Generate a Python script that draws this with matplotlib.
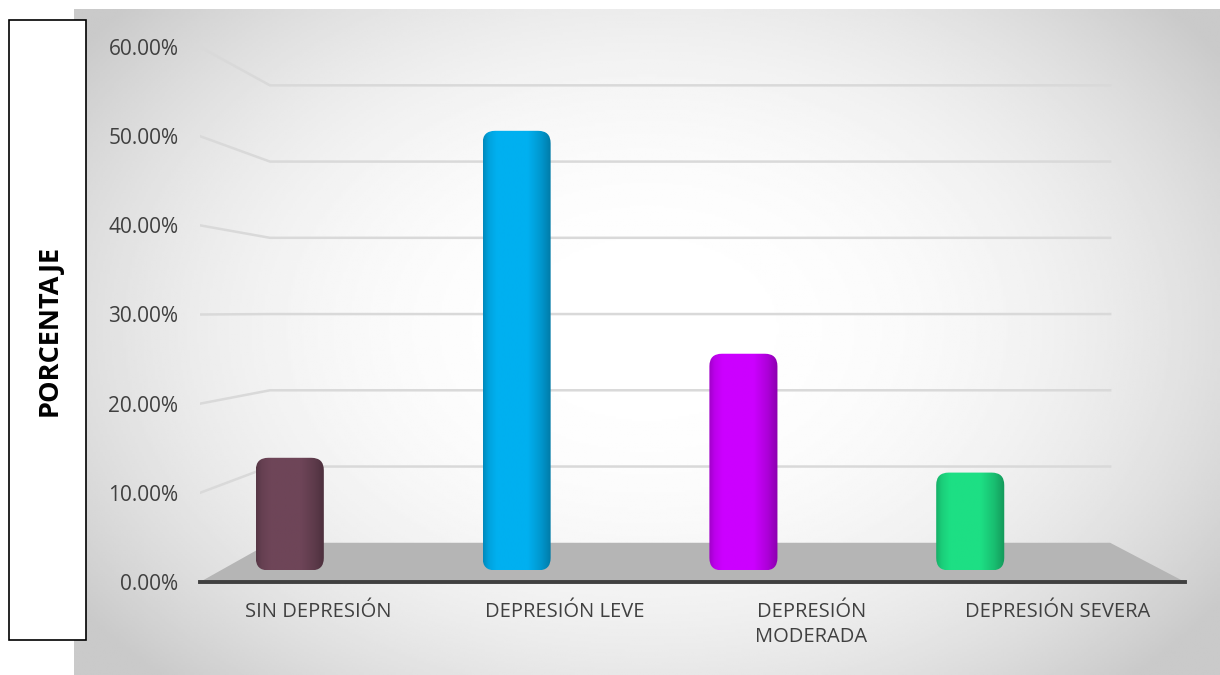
import numpy as np
import matplotlib
matplotlib.use("Agg")
import matplotlib.pyplot as plt
import matplotlib.transforms as mtransforms
from matplotlib.patches import FancyBboxPatch, Rectangle, Polygon
from matplotlib.colors import to_rgb

# data
categories = ["SIN DEPRESIÓN", "DEPRESIÓN LEVE", "DEPRESIÓN\nMODERADA", "DEPRESIÓN SEVERA"]
percentages = [0.1333, 0.50, 0.25, 0.1167]
bar_colors = ["#6e4558", "#00b0f0", "#cc00ff", "#1ddf84"]
y_ticks = [0.0, 0.1, 0.2, 0.3, 0.4, 0.5, 0.6]
y_label = "PORCENTAJE"

plt.rcParams["font.family"] = ["Open Sans", "DejaVu Sans"]

W, H = 1220, 675
fig = plt.figure(figsize=(W / 100, H / 100), dpi=100)

# radial gradient background panel
bg = fig.add_axes([74 / W, 0, (W - 74) / W, (H - 9) / H])
yy, xx = np.mgrid[0:1:300j, 0:1:500j]
r = np.sqrt(((xx - 0.5) / 0.62) ** 2 + ((yy - 0.48) / 0.75) ** 2)
shade = np.clip(1 - 0.22 * r ** 2.4, 0.79, 1)
bg.imshow(shade, cmap="gray", vmin=0, vmax=1, extent=[0, 1, 0, 1], aspect="auto")
bg.axis("off")

# left label box
fig.patches.append(Rectangle((9 / W, (H - 640) / H), 77 / W, 620 / H,
                             transform=fig.transFigure, facecolor="white",
                             edgecolor="black", linewidth=1.2, zorder=1))
fig.text(50 / W, (H - 330) / H, y_label, rotation=90, ha="center", va="center",
         fontsize=19.5, fontweight="bold", color="black")

ax = fig.add_axes([200 / W, 93 / H, 985 / W, 535 / H])
ax.patch.set_alpha(0)
ax.set_xlim(-0.396, 3.947)
ax.set_ylim(0, 0.6)
blend = mtransforms.blended_transform_factory(ax.transAxes, ax.transData)


def back(v):
    # height of a gridline on the back wall of the 3D box
    return 0.044 + v * 0.855


# floor
ax.add_patch(Polygon([(0, 0), (1, 0), (0.924, back(0)), (0.071, back(0))],
                     closed=True, transform=blend, facecolor="#b5b5b5",
                     edgecolor="none", zorder=1))

# perspective gridlines
for v in y_ticks[1:]:
    ax.plot([0, 0.071, 0.924], [v, back(v), back(v)], transform=blend,
            color="#d9d9d9", linewidth=1.8, zorder=0.5)

# front axis line
ax.plot([0, 1], [0, 0], transform=blend, color="#404040", linewidth=2.8,
        clip_on=False, zorder=2)

# bars with rounded corners and horizontal shading
x = np.arange(len(categories))
bw = 0.30
base = 0.013
lift = 0.006
t = np.linspace(0, 1, 200)
profile = np.interp(t, [0, 0.08, 0.2, 0.65, 0.85, 1.0], [0.78, 0.92, 1.0, 1.0, 0.85, 0.68])
for xi, v, c in zip(x, percentages, bar_colors):
    x0 = xi - bw / 2
    top = v + lift
    patch = FancyBboxPatch((x0, base), bw, top - base,
                           boxstyle="round,pad=0,rounding_size=0.055",
                           mutation_aspect=0.254, facecolor="none",
                           edgecolor="none", zorder=3)
    ax.add_patch(patch)
    rgb = np.array(to_rgb(c))
    img = np.clip(profile[None, :, None] * rgb[None, None, :], 0, 1)
    im = ax.imshow(img, extent=[x0, x0 + bw, base, top], aspect="auto",
                   interpolation="bilinear", zorder=3)
    im.set_clip_path(patch)

ax.set_xlim(-0.396, 3.947)
ax.set_ylim(0, 0.6)

# category labels (shifted right as in the 3D projection)
lab_tr = mtransforms.blended_transform_factory(ax.transData, ax.transAxes)
for xi, label in zip(x, categories):
    ax.text(xi * 1.087 + 0.125, -0.037, label, transform=lab_tr,
            ha="center", va="top", fontsize=14.5, color="#404040",
            linespacing=1.35, multialignment="center")

ax.set_xticks([])
ax.set_yticks(y_ticks)
ax.set_yticklabels([f"{v * 100:.2f}%" for v in y_ticks])
ax.tick_params(axis="y", length=0, pad=15.5, labelsize=15, labelcolor="#404040")
for s in ax.spines.values():
    s.set_visible(False)

fig.savefig("out.png", dpi=100)
